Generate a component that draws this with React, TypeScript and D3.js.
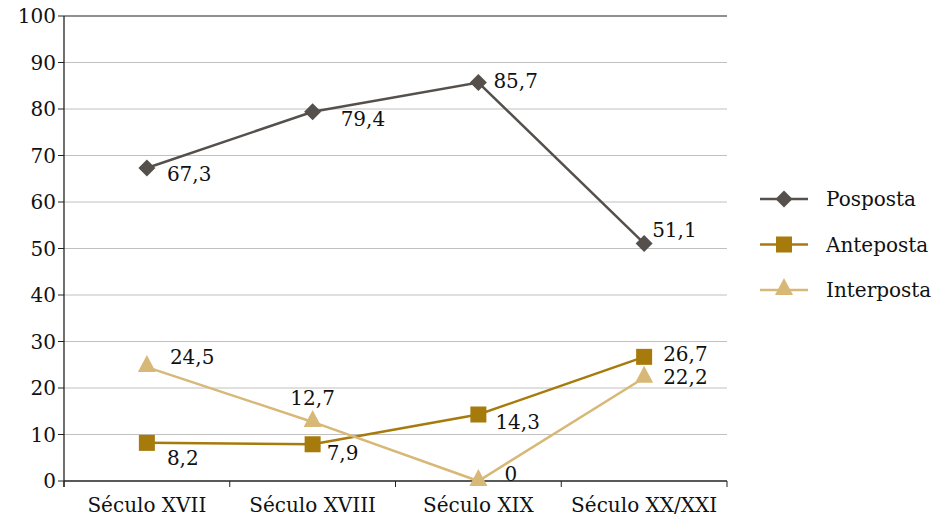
import React from "react";
import * as d3 from "d3";

const categories = ["Século XVII", "Século XVIII", "Século XIX", "Século XX/XXI"];
const seriesNames = ["Posposta", "Anteposta", "Interposta"];
const posposta = [67.3, 79.4, 85.7, 51.1];
const anteposta = [8.2, 7.9, 14.3, 26.7];
const interposta = [24.5, 12.7, 0, 22.2];
const posLabels = ["67,3", "79,4", "85,7", "51,1"];
const antLabels = ["8,2", "7,9", "14,3", "26,7"];
const intLabels = ["24,5", "12,7", "0", "22,2"];
const yTicks = [0, 10, 20, 30, 40, 50, 60, 70, 80, 90, 100];

// label offsets (styling)
const posOff = [[20, 6], [28, 7], [15, -1], [8, -13]];
const antOff = [[20, 15], [14, 9], [17, 7], [19, -3]];
const intOff = [[23, -10], [0, -24], [26, -7], [19, -1]];

const W = 938, H = 521;
const left = 64, right = 727, top = 16, bottom = 481;
const FONT = "DejaVu Serif";
const FS = 20;

const colors = ["#55504c", "#a67b0b", "#d8b877"];

function Marker({ type, x, y, color }: { type: number; x: number; y: number; color: string }) {
  if (type === 0) {
    const s = 8.5;
    return <path d={`M${x},${y - s}L${x + s},${y}L${x},${y + s}L${x - s},${y}Z`} fill={color} />;
  }
  if (type === 1) {
    return <rect x={x - 8} y={y - 8} width={16} height={16} fill={color} />;
  }
  const s = 9;
  return <path d={`M${x},${y - 12}L${x + s},${y + 5}L${x - s},${y + 5}Z`} fill={color} />;
}

export default function App() {
  const x = d3.scaleBand<string>().domain(categories).range([left, right]);
  const y = d3.scaleLinear().domain([0, 100]).range([bottom, top]);
  const cx = (c: string) => (x(c) as number) + x.bandwidth() / 2;
  const series = [posposta, anteposta, interposta];
  const labels = [posLabels, antLabels, intLabels];
  const offs = [posOff, antOff, intOff];
  const line = d3.line<number>().x((_, i) => cx(categories[i])).y((d) => y(d));
  const boundaries = categories.map((c) => x(c) as number).concat([right]);

  return (
    <svg width={W} height={H} style={{ position: "absolute", left: 0, top: 0, background: "#fff" }}
      fontFamily={FONT} fontSize={FS}>
      {yTicks.map((t) => (
        <g key={t}>
          {t > 0 && t < 100 && <line x1={left} x2={right} y1={y(t)} y2={y(t)} stroke="#c0c0c0" strokeWidth={1} />}
          <line x1={left - 6} x2={left} y1={y(t)} y2={y(t)} stroke="#222" strokeWidth={1} />
          <text x={left - 8} y={y(t)} dy="0.35em" textAnchor="end" fill="#111">{t}</text>
        </g>
      ))}
      <line x1={left} x2={right} y1={top} y2={top} stroke="#222" strokeWidth={1.2} />
      <line x1={left} x2={left} y1={top} y2={bottom + 6} stroke="#222" strokeWidth={1.3} />
      <line x1={left} x2={right} y1={bottom} y2={bottom} stroke="#222" strokeWidth={1.3} />
      {boundaries.map((b, i) => (
        <line key={i} x1={b} x2={b} y1={bottom} y2={bottom + 6} stroke="#222" strokeWidth={1} />
      ))}
      {categories.map((c) => (
        <text key={c} x={cx(c)} y={bottom + 24} dy="0.35em" textAnchor="middle" fill="#111">{c}</text>
      ))}
      {series.map((s, si) => (
        <g key={si}>
          <path d={line(s) || ""} fill="none" stroke={colors[si]} strokeWidth={2.5} />
          {s.map((v, i) => (
            <Marker key={i} type={si} x={cx(categories[i])} y={y(v)} color={colors[si]} />
          ))}
          {s.map((v, i) => (
            <text key={"l" + i} x={cx(categories[i]) + offs[si][i][0]} y={y(v) + offs[si][i][1]} dy="0.35em"
              textAnchor={offs[si][i][0] === 0 ? "middle" : "start"} fill="#111">{labels[si][i]}</text>
          ))}
        </g>
      ))}
      {seriesNames.map((n, i) => {
        const ly = 199 + i * 45.5;
        return (
          <g key={n}>
            <line x1={760} x2={808} y1={ly} y2={ly} stroke={colors[i]} strokeWidth={2.5} />
            <Marker type={i} x={784} y={ly} color={colors[i]} />
            <text x={826} y={ly} dy="0.35em" fill="#111">{n}</text>
          </g>
        );
      })}
    </svg>
  );
}
